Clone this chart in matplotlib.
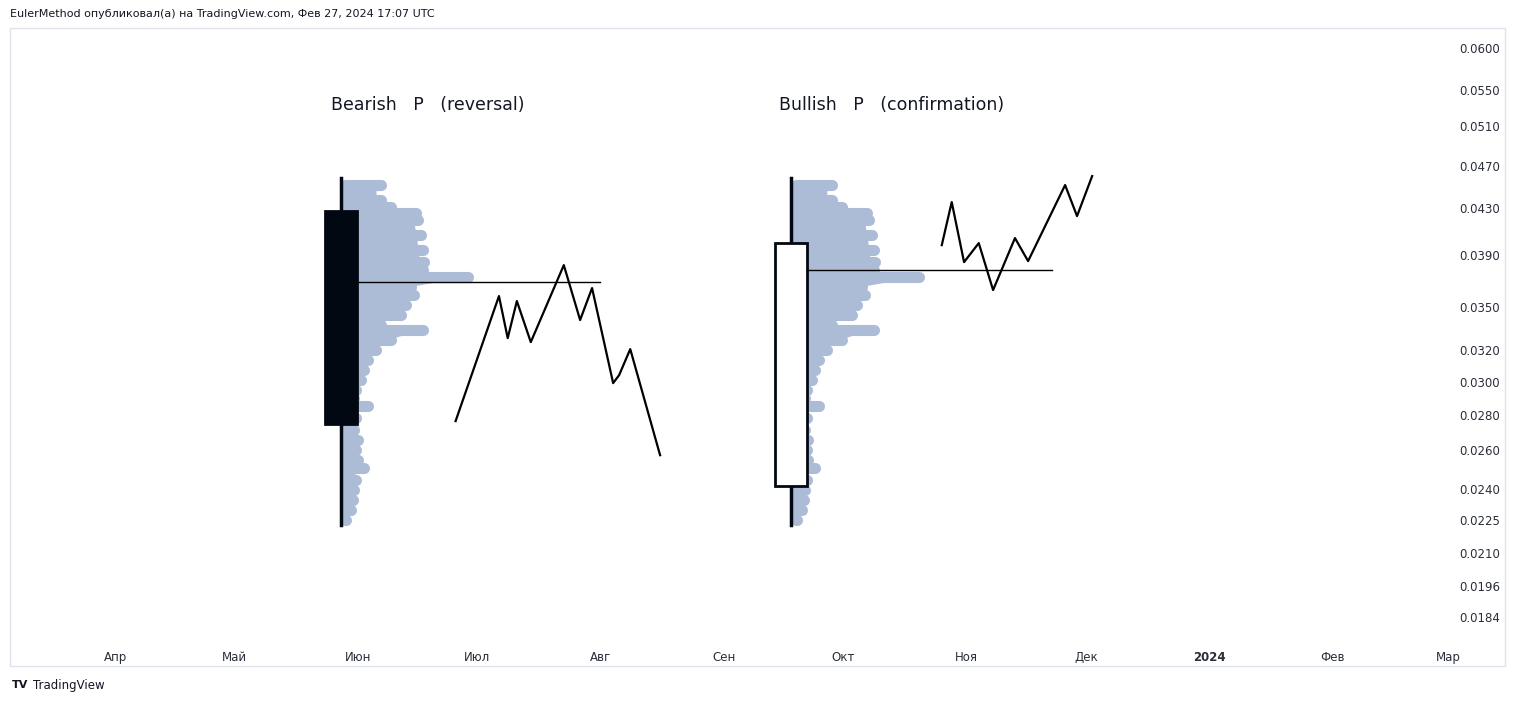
import matplotlib
matplotlib.use("Agg")
import matplotlib.pyplot as plt
from matplotlib.patches import Rectangle
import numpy as np

# x values are days after 2023-04-01
month_ticks = [0, 30, 61, 91, 122, 153, 183, 214, 244, 275, 306, 335]
month_labels = ["Апр", "Май", "Июн", "Июл", "Авг", "Сен", "Окт", "Ноя", "Дек", "2024", "Фев", "Мар"]
price_ticks = [0.0600, 0.0550, 0.0510, 0.0470, 0.0430, 0.0390, 0.0350, 0.0320,
               0.0300, 0.0280, 0.0260, 0.0240, 0.0225, 0.0210, 0.0196, 0.0184]

# candles: day, open, close, high, low
candle_days = [56.7, 170.0]
candle_open = [0.04276, 0.02414]
candle_close = [0.02746, 0.04000]
candle_high = [0.04579, 0.04579]
candle_low = [0.02226, 0.02226]

# volume profile: price levels and widths (days)
profile_prices = [0.04513, 0.04374, 0.04311, 0.04258, 0.04196, 0.04067, 0.03942, 0.03845,
                  0.03782, 0.03727, 0.03650, 0.03590, 0.03517, 0.03444, 0.03373, 0.03339,
                  0.03269, 0.03202, 0.03137, 0.03072, 0.03009, 0.02947, 0.02898, 0.02850,
                  0.02780, 0.02712, 0.02656, 0.02601, 0.02548, 0.02506, 0.02444, 0.02393,
                  0.02344, 0.02296, 0.02249]
profile_widths = [11.3, 11.3, 13.9, 20.2, 20.7, 21.4, 21.9, 22.2, 21.9, 33.2, 18.9, 19.6,
                  17.6, 16.4, 11.3, 21.9, 13.9, 10.1, 8.1, 7.1, 6.3, 5.0, 4.5, 8.1, 5.0,
                  4.5, 5.5, 5.0, 5.5, 7.1, 5.0, 4.5, 4.3, 3.8, 2.5]

bear_x = [85.6, 96.5, 98.7, 101.0, 104.5, 112.8, 116.9, 119.9, 125.2, 126.7, 129.5, 137.0]
bear_y = [0.02763, 0.03583, 0.03283, 0.03546, 0.03256, 0.03821, 0.03409, 0.03643,
          0.02990, 0.03040, 0.03209, 0.02574]
bull_x = [207.8, 210.3, 213.4, 217.1, 220.7, 226.2, 229.5, 238.8, 241.8, 245.6]
bull_y = [0.03983, 0.04356, 0.03845, 0.04000, 0.03628, 0.04042, 0.03853, 0.04513,
          0.04231, 0.04598]
poc_lines = [(60.7, 121.9, 0.03689), (174.0, 235.5, 0.03782)]
titles = [(54.2, "Bearish   P   (reversal)"), (167.0, "Bullish   P   (confirmation)")]

W, H = 1515, 702
fig = plt.figure(figsize=(W/100, H/100), dpi=100)
fig.patches.append(Rectangle((10/W, (H-666)/H), 1495/W, 638/H, transform=fig.transFigure,
                             fill=False, edgecolor="#e0e3eb", lw=1))
ax = fig.add_axes([10/W, (H-640)/H, 1445/W, 612/H])
ax.set_yscale("log")
ax.set_xlim(-26.4, 336.8)
ax.set_ylim(0.01753, 0.06255)
for s in ax.spines.values():
    s.set_visible(False)
ax.yaxis.tick_right()
ax.set_yticks(price_ticks)
ax.set_yticklabels([f"{p:.4f}" for p in price_ticks])
ax.yaxis.set_minor_locator(matplotlib.ticker.NullLocator())
ax.set_xticks(month_ticks)
ax.set_xticklabels(month_labels)
for lab in ax.get_xticklabels():
    if lab.get_text() == "2024":
        lab.set_fontweight("bold")
ax.tick_params(length=0, labelsize=8.5, colors="#2a2e39", pad=8)
ax.tick_params(axis="y", pad=3)
xl = ax.get_xticklabels()[-1]
xl.set_clip_on(True)

cap = 1.2
pw = np.array(profile_widths)
for cd in candle_days:
    ax.fill_betweenx(profile_prices, cd, cd + np.maximum(pw - 2 * cap, 0.5),
                     color="#adbcd6", lw=0, zorder=1)
    for p, w in zip(profile_prices, profile_widths):
        ax.plot([cd + cap, cd + max(w - cap, cap)], [p, p], color="#adbcd6", lw=8,
                solid_capstyle="round", zorder=1)

for i, cd in enumerate(candle_days):
    ax.plot([cd, cd], [candle_low[i], candle_high[i]], color="#020812", lw=2.5, zorder=2)
    lo, hi = min(candle_open[i], candle_close[i]), max(candle_open[i], candle_close[i])
    bear = candle_close[i] < candle_open[i]
    ax.add_patch(Rectangle((cd - 4.0, lo), 8.0, hi - lo,
                           facecolor="#020812" if bear else "white",
                           edgecolor="#020812", lw=2, zorder=3))

for x0, x1, p in poc_lines:
    ax.plot([x0, x1], [p, p], color="black", lw=1, zorder=4)
ax.plot(bear_x, bear_y, color="black", lw=1.6, zorder=4)
ax.plot(bull_x, bull_y, color="black", lw=1.6, zorder=4)
for x, t in titles:
    ax.text(x, 0.0533, t, fontsize=12.5, color="#131722", ha="left", va="center")

fig.text(10/W, 1 - 14/H, "EulerMethod опубликовал(а) на TradingView.com, Фев 27, 2024 17:07 UTC",
         fontsize=8, color="#131722", va="center")
fig.text(12/W, 1 - 685/H, "TV", fontsize=8, fontweight="bold", color="#131722", va="center")
fig.text(33/W, 1 - 685/H, "TradingView", fontsize=8.5, color="#131722", va="center")
fig.savefig("out.png", dpi=100)
